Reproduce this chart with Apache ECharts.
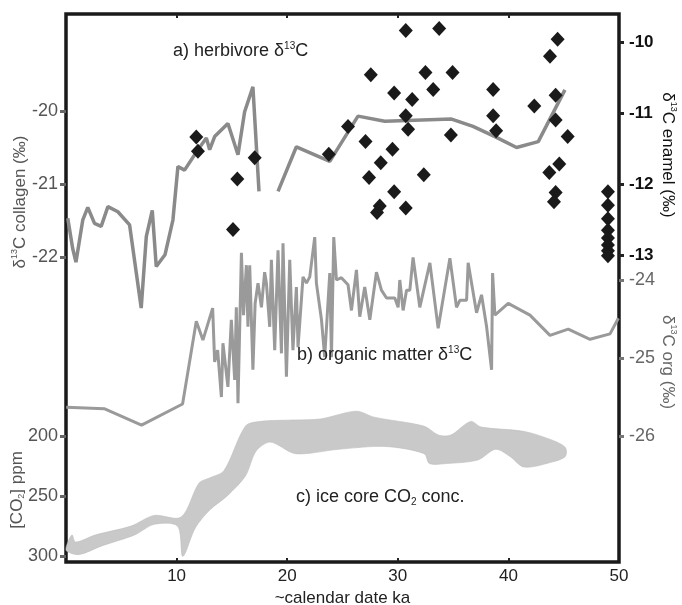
<!DOCTYPE html>
<html><head><meta charset="utf-8">
<script src="https://cdn.jsdelivr.net/npm/echarts@6/dist/echarts.min.js"></script>
<style>html,body{margin:0;padding:0;background:#fff}#c{width:682px;height:605px}</style>
</head><body><div id="c"></div>
<script>
const xTicks = [10, 20, 30, 40];
const xLabels = [10, 20, 30, 40, 50];
const collagenTicks = [-22, -21, -20];
const enamelTicks = [-13, -12, -11, -10];
const orgTicks = [-26, -25, -24];
const co2Ticks = [200, 250, 300];

// a) herbivore collagen δ13C (‰) vs ka (null = gap)
const collagenLine = [
  [0.16,-21.47],[0.6,-21.88],[0.9,-22.07],[1.52,-21.49],[1.97,-21.32],[2.58,-21.54],[3.18,-21.58],
  [3.79,-21.31],[4.69,-21.38],[5.75,-21.56],[6.8,-22.70],[7.26,-21.72],[7.8,-21.36],[8.16,-22.13],
  [8.95,-21.97],[9.67,-21.49],[10.12,-20.76],[10.72,-20.81],[11.93,-20.53],[12.69,-20.37],
  [12.99,-20.53],[13.44,-20.35],[14.64,-20.17],[15.55,-20.60],[16.15,-20.01],[16.9,-19.67],
  [17.45,-21.10],[18.3,null],
  [19.17,-21.10],[20.83,-20.49],[23.85,-20.69],[26.4,-20.07],[28.82,-20.14],[34.86,-20.11],
  [36.8,-20.21],[38.78,-20.35],[40.74,-20.50],[42.7,-20.42],[45.11,-19.71]
];

// enamel δ13C (‰)
const enamelPoints = [
  [11.78,-11.34],[11.93,-11.54],[17.06,-11.63],[15.49,-11.93],[15.1,-12.64],
  [30.72,-9.84],[33.74,-9.81],[44.45,-9.96],[43.76,-10.20],[27.56,-10.46],[32.5,-10.43],
  [34.95,-10.43],[38.62,-10.67],[29.67,-10.72],[33.2,-10.67],[31.3,-10.81],[44.27,-10.75],
  [42.34,-10.90],[30.72,-11.04],[38.62,-11.04],[44.27,-11.10],[25.5,-11.19],[30.93,-11.23],
  [38.89,-11.25],[34.8,-11.31],[45.36,-11.33],[27.08,-11.40],[29.52,-11.51],[23.76,-11.58],
  [28.46,-11.70],[44.6,-11.72],[27.4,-11.91],[43.7,-11.84],[32.35,-11.87],[29.67,-12.11],
  [44.27,-12.12],[44.12,-12.25],[28.37,-12.31],[28.12,-12.40],[30.72,-12.34],
  [49.0,-12.11],[49.0,-12.30],[49.0,-12.49],[49.0,-12.65],[49.0,-12.76],[49.0,-12.86],
  [49.0,-12.94],[49.0,-13.01]
];

// b) organic matter δ13C (‰)
const orgLine = [
  [0.02,-25.63],[3.45,-25.65],[6.83,-25.86],[10.54,-25.59],[11.78,-24.53],[12.38,-24.77],
  [13.26,-24.36],[13.44,-25.05],[13.71,-24.90],[14.05,-25.50],[14.19,-24.81],[14.64,-25.37],
  [14.95,-24.51],[15.25,-25.28],[15.40,-24.35],[15.55,-25.58],[15.86,-23.65],[16.05,-24.45],
  [16.31,-23.81],[16.45,-24.6],[16.61,-23.81],[16.90,-25.15],[17.1,-24.3],[17.36,-24.04],
  [17.67,-24.35],[17.96,-23.90],[18.12,-24.04],[18.42,-24.60],[18.57,-23.74],[18.87,-24.90],
  [19.17,-23.62],[19.48,-24.94],[19.62,-23.53],[19.93,-25.24],[20.23,-23.74],[20.52,-24.90],
  [20.83,-24.09],[20.98,-24.86],[21.43,-23.96],[21.74,-24.04],[22.04,-23.96],[22.49,-23.45],
  [22.64,-24.04],[23.10,-24.51],[23.39,-24.99],[23.85,-23.91],[24.00,-24.99],[24.21,-23.45],
  [24.45,-24.00],[24.90,-23.97],[25.50,-24.06],[25.81,-24.39],[26.26,-23.87],[26.56,-24.47],
  [27.01,-24.09],[27.47,-24.51],[28.07,-23.90],[28.52,-24.13],[28.98,-24.23],[29.73,-24.23],
  [30.03,-24.35],[30.18,-24.00],[30.48,-24.39],[30.79,-24.13],[31.09,-24.13],[31.38,-23.71],
  [31.99,-24.35],[32.90,-23.78],[33.65,-24.62],[34.71,-23.72],[35.31,-24.35],[35.61,-24.26],
  [36.22,-24.26],[36.36,-23.78],[37.12,-24.42],[37.57,-24.19],[38.03,-24.60],[38.48,-25.15],
  [38.57,-23.91],[38.78,-24.45],[39.98,-24.30],[41.95,-24.45],[43.76,-24.71],[45.41,-24.63],
  [47.38,-24.76],[49.19,-24.69],[49.94,-24.49]
];

// c) ice core CO2 (ppm) band edges
const co2Upper = [
  [0.05,291.4],[0.54,282.5],[0.87,288.4],[2.64,282.5],[5.87,275.1],[7.97,266.2],[10.40,267.6],
  [12.02,239.3],[12.99,234.9],[14.28,228.9],[16.22,191.8],[17.51,187.9],[20.42,186.7],
  [23.0,185.8],[26.24,179.3],[27.86,184.3],[32.38,191.8],[33.67,199.2],[34.8,199.2],
  [36.58,187.9],[37.55,192.6],[41.43,196.2],[44.02,203.7],[45.15,209.6]
];
const co2Lower = [
  [0.05,295.9],[1.19,298.8],[3.29,291.4],[6.2,282.5],[7.97,273.6],[10.08,275.1],[10.56,300.3],
  [11.69,276.6],[12.99,261.7],[14.6,249.7],[16.22,233.4],[17.19,212.6],[18.48,205.1],
  [20.74,214.7],[24.62,211.1],[28.82,208.7],[32.38,214.7],[32.86,223.0],[34.32,223.0],
  [37.23,220.0],[38.84,211.1],[40.14,217.0],[41.43,225.9],[44.02,221.5],[45.15,217.0]
];

const FONT = '"Liberation Sans", Arial, sans-serif';
const chart = echarts.init(document.getElementById('c'), null, {renderer: 'canvas'});

function gtext(x, y, text, opts) {
  const base = Object.assign({fontSize: 18, fill: '#222'}, opts.base || {});
  const small = Math.round(base.fontSize * 0.55);
  return {
    type: 'text', x: x, y: y, rotation: opts.rotation || 0, z: 100,
    style: {
      text: text, fontFamily: FONT, fontSize: base.fontSize, fill: base.fill,
      fontWeight: base.fontWeight || 'normal',
      align: opts.align || 'left', verticalAlign: 'middle',
      rich: {
        n: {fontSize: base.fontSize, fill: base.fill, fontFamily: FONT, fontWeight: base.fontWeight || 'normal', lineHeight: base.fontSize + 2},
        sup: {fontSize: small, fill: base.fill, fontFamily: FONT, verticalAlign: 'top', lineHeight: base.fontSize + 2},
        sub: {fontSize: small, fill: base.fill, fontFamily: FONT, verticalAlign: 'bottom', lineHeight: base.fontSize + 2}
      }
    }
  };
}

const option = {
  animation: false,
  backgroundColor: '#fff',
  grid: {left: 66, right: 63, top: 14, bottom: 43, show: true, containLabel: false, outerBoundsMode: 'none',
         borderColor: '#1a1a1a', borderWidth: 3.5, backgroundColor: 'transparent'},
  xAxis: [
    {type: 'value', min: 0, max: 50, position: 'bottom',
     axisLine: {show: false, onZero: false}, splitLine: {show: false},
     axisTick: {show: true, inside: true, customValues: xTicks, length: 4, lineStyle: {color: '#222', width: 2}},
     axisLabel: {customValues: xLabels, color: '#222', fontSize: 17, fontFamily: FONT, margin: 6},
     name: '~calendar date ka', nameLocation: 'middle', nameGap: 24,
     nameTextStyle: {color: '#222', fontSize: 17, fontFamily: FONT}},
    {type: 'value', min: 0, max: 50, position: 'top',
     axisLine: {show: false, onZero: false}, splitLine: {show: false},
     axisTick: {show: true, inside: true, customValues: xTicks, length: 4, lineStyle: {color: '#222', width: 2}},
     axisLabel: {show: false}}
  ],
  yAxis: [
    {type: 'value', position: 'left', min: -26.178, max: -18.671,
     axisLine: {show: false, onZero: false}, splitLine: {show: false},
     axisTick: {show: true, customValues: collagenTicks, length: 6, lineStyle: {color: '#666', width: 3}},
     axisLabel: {customValues: collagenTicks, color: '#555', fontSize: 18, fontFamily: FONT, margin: 8}},
    {type: 'value', position: 'left', inverse: true, min: -151.67, max: 305,
     axisLine: {show: false, onZero: false}, splitLine: {show: false},
     axisTick: {show: true, customValues: co2Ticks, length: 6, lineStyle: {color: '#666', width: 3}},
     axisLabel: {customValues: co2Ticks, color: '#555', fontSize: 18, fontFamily: FONT, margin: 8}},
    {type: 'value', position: 'right', min: -17.324, max: -9.606,
     axisLine: {show: false, onZero: false}, splitLine: {show: false},
     axisTick: {show: true, customValues: enamelTicks, length: 5, lineStyle: {color: '#222', width: 3}},
     axisLabel: {customValues: enamelTicks, color: '#111', fontWeight: 'bold', fontSize: 17, fontFamily: FONT, margin: 10}},
    {type: 'value', position: 'right', min: -27.615, max: -20.59,
     axisLine: {show: false, onZero: false}, splitLine: {show: false},
     axisTick: {show: true, customValues: orgTicks, length: 5, lineStyle: {color: '#777', width: 3}},
     axisLabel: {customValues: orgTicks, color: '#666', fontSize: 18, fontFamily: FONT, margin: 10}}
  ],
  series: [
    {type: 'custom', xAxisIndex: 0, yAxisIndex: 1, data: [[0, 250]], z: 1, silent: true,
     renderItem: function (params, api) {
       if (params.dataIndex !== 0) return null;
       const pts = co2Upper.map(p => api.coord(p)).concat(co2Lower.slice().reverse().map(p => api.coord(p)));
       return {type: 'polygon', shape: {points: pts, smooth: 0.3}, style: {fill: '#c9c9c9', stroke: '#bcbcbc', lineWidth: 0.6}};
     }},
    {type: 'line', xAxisIndex: 0, yAxisIndex: 3, data: orgLine, z: 2, showSymbol: false, symbol: 'none',
     lineStyle: {color: '#9a9a9a', width: 3}, silent: true},
    {type: 'line', xAxisIndex: 0, yAxisIndex: 0, data: collagenLine, z: 3, showSymbol: false, symbol: 'none',
     connectNulls: false, lineStyle: {color: '#8a8a8a', width: 3.5}, silent: true},
    {type: 'scatter', xAxisIndex: 0, yAxisIndex: 2, data: enamelPoints, z: 4, symbol: 'diamond', symbolSize: [14, 15],
     itemStyle: {color: '#1a1a1a', opacity: 1}, silent: true}
  ],
  graphic: [
    gtext(173, 51, '{n|a) herbivore δ}{sup|13}{n|C}', {}),
    gtext(297, 355, '{n|b) organic matter δ}{sup|13}{n|C}', {}),
    gtext(296, 497, '{n|c) ice core CO}{sub|2}{n| conc.}', {}),
    gtext(20, 202, '{n|δ}{sup|13}{n|C collagen (‰)}', {rotation: Math.PI / 2, align: 'center', base: {fill: '#555', fontSize: 17}}),
    gtext(17, 490, '{n|[CO}{sub|2}{n|] ppm}', {rotation: Math.PI / 2, align: 'center', base: {fill: '#555', fontSize: 17}}),
    gtext(668, 155, '{n|δ}{sup|13}{n|C enamel (‰)}', {rotation: -Math.PI / 2, align: 'center', base: {fill: '#111', fontSize: 17}}),
    gtext(668, 362, '{n|δ}{sup|13}{n|C org (‰)}', {rotation: -Math.PI / 2, align: 'center', base: {fill: '#666', fontSize: 17}})
  ]
};
chart.setOption(option);
</script>
</body></html>
